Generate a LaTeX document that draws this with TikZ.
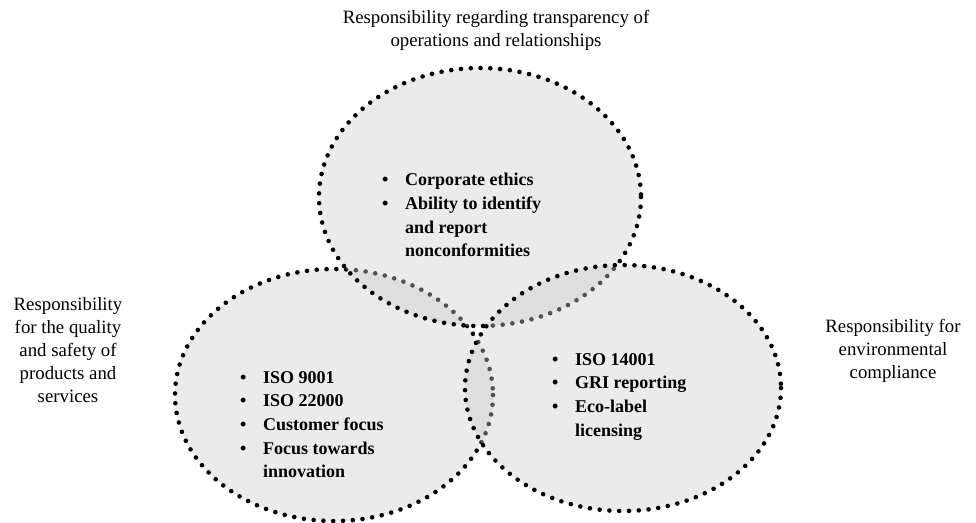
\documentclass[tikz,border=0pt]{standalone}
\usepackage{fontspec}
\setmainfont{Liberation Serif}
\usetikzlibrary{positioning}

\newcommand{\bitem}[1]{\makebox[23pt][l]{\textbullet}#1}
\newcommand{\bcont}[1]{\hspace*{23pt}#1}

\begin{document}
\begin{tikzpicture}[x=1pt, y=-1pt,
    venn/.style={draw, line width=4.6pt, line cap=round, dash pattern=on 0pt off 9.8pt, fill=black!20, fill opacity=0.4},
    caption/.style={align=center, inner sep=0pt, font=\fontsize{18.8}{23}\selectfont},
    items/.style={align=left, anchor=north west, inner sep=0pt, font=\bfseries\fontsize{18}{23.7}\selectfont}]
    \useasboundingbox (0,0) rectangle (976,522);

    % the three circles: left, top, right
    \filldraw[venn] (334,395) ellipse [x radius=159, y radius=126];
    \filldraw[venn] (480,197) ellipse [x radius=161, y radius=129];
    \filldraw[venn] (623,388) ellipse [x radius=158, y radius=123];

    \node (ethics) [items] at (382,173) {\bitem{Corporate ethics}\\ \bitem{Ability to identify}\\ \bcont{and report}\\ \bcont{nonconformities}};
    \node (quality) [items] at (240,371) {\bitem{ISO 9001}\\ \bitem{ISO 22000}\\ \bitem{Customer focus}\\ \bitem{Focus towards}\\ \bcont{innovation}};
    \node (environ) [items] at (552,353) {\bitem{ISO 14001}\\ \bitem{GRI reporting}\\ \bitem{Eco-label}\\ \bcont{licensing}};

    \node (transp) [caption] at (496,30) {Responsibility regarding transparency of\\ operations and relationships};
    \node (prod) [caption] at (68,350) {Responsibility\\ for the quality\\ and safety of\\ products and\\ services};
    \node (compl) [caption] at (893,351) {Responsibility for\\ environmental\\ compliance};
\end{tikzpicture}
\end{document}
